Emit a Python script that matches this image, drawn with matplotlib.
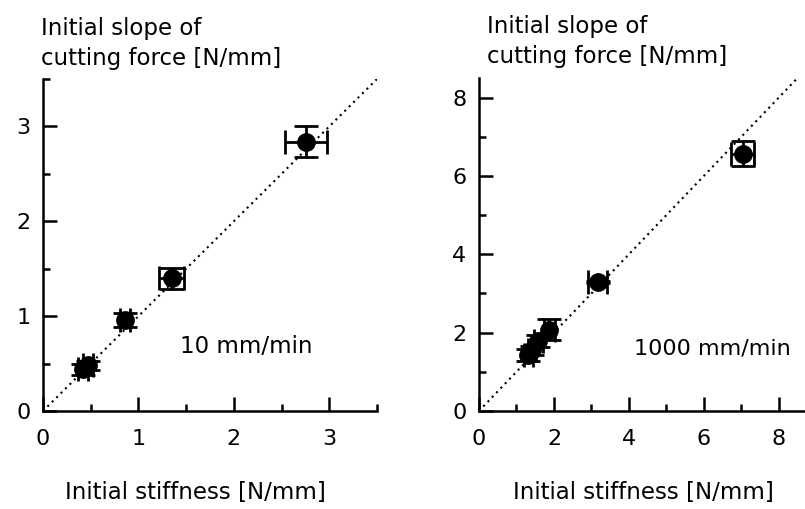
import matplotlib.pyplot as plt
from matplotlib.ticker import MultipleLocator

# 10 mm/min
x10 = [0.42, 0.47, 0.86, 1.35, 2.76]
y10 = [0.44, 0.48, 0.96, 1.40, 2.84]
xerr10 = [0.05, 0.05, 0.05, 0.13, 0.22]
yerr10 = [0.06, 0.05, 0.07, 0.11, 0.16]

# 1000 mm/min
x1000 = [1.32, 1.42, 1.58, 1.88, 3.17, 7.04]
y1000 = [1.43, 1.55, 1.78, 2.08, 3.29, 6.57]
xerr1000 = [0.12, 0.10, 0.12, 0.14, 0.25, 0.31]
yerr1000 = [0.15, 0.12, 0.15, 0.28, 0.03, 0.31]

plt.rcParams['font.family'] = 'DejaVu Sans'
fig = plt.figure(figsize=(8.05, 5.09), dpi=100)

ax1 = fig.add_axes([43/805, 98/509, 334/805, 332/509])
ax2 = fig.add_axes([479/805, 98/509, 326/805, 333/509])


def style(ax, xmax, ymax, major, minor):
    ax.plot([0, 10], [0, 10], ls=(0, (1, 2)), color='black', lw=1.5, zorder=1)
    ax.set_xlim(0, xmax)
    ax.set_ylim(0, ymax)
    for s in ['top', 'right']:
        ax.spines[s].set_visible(False)
    for s in ['left', 'bottom']:
        ax.spines[s].set_linewidth(1.8)
    ax.xaxis.set_major_locator(MultipleLocator(major))
    ax.yaxis.set_major_locator(MultipleLocator(major))
    ax.xaxis.set_minor_locator(MultipleLocator(minor))
    ax.yaxis.set_minor_locator(MultipleLocator(minor))
    ax.tick_params(which='major', direction='in', length=10, width=1.8,
                   labelsize=16, pad=9)
    ax.tick_params(axis='x', which='major', pad=13)
    ax.tick_params(which='minor', direction='in', length=5, width=1.8)


style(ax1, 3.5, 3.5, 1, 0.5)
style(ax2, 8.7, 8.5, 2, 1)

ax1.errorbar(x10, y10, xerr=xerr10, yerr=yerr10, fmt='o', color='black',
             ms=12.5, elinewidth=2, capsize=8.5, capthick=2, zorder=3)
ax2.errorbar(x1000, y1000, xerr=xerr1000, yerr=yerr1000, fmt='o', color='black',
             ms=12.5, elinewidth=2, capsize=8.5, capthick=2, zorder=3)

fs = 16.5
fig.text(41/805, 1 - 35/509, 'Initial slope of', fontsize=fs, va='baseline')
fig.text(41/805, 1 - 65/509, 'cutting force [N/mm]', fontsize=fs, va='baseline')
fig.text(487/805, 1 - 33/509, 'Initial slope of', fontsize=fs, va='baseline')
fig.text(487/805, 1 - 63/509, 'cutting force [N/mm]', fontsize=fs, va='baseline')

fig.text(195/805, 1 - 499/509, 'Initial stiffness [N/mm]', fontsize=fs,
         ha='center', va='baseline')
fig.text(643/805, 1 - 499/509, 'Initial stiffness [N/mm]', fontsize=fs,
         ha='center', va='baseline')

fig.text(180/805, 1 - 353/509, '10 mm/min', fontsize=fs, va='baseline')
fig.text(634/805, 1 - 355/509, '1000 mm/min', fontsize=16, va='baseline')

fig.savefig('out.png', dpi=100)
